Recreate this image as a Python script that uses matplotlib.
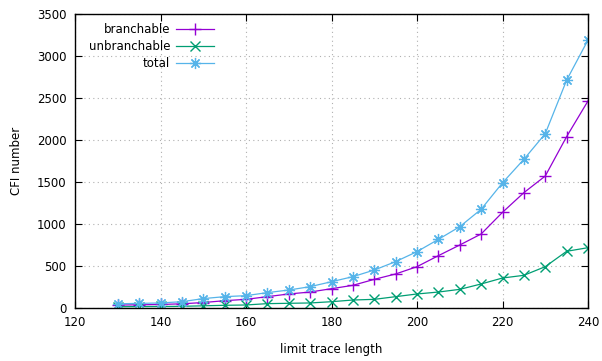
import matplotlib
matplotlib.use("Agg")
import matplotlib.pyplot as plt

x = [130, 135, 140, 145, 150, 155, 160, 165, 170, 175, 180, 185, 190, 195,
     200, 205, 210, 215, 220, 225, 230, 235, 240]
branchable = [35, 38, 42, 50, 65, 87, 103, 135, 167, 190, 230, 270, 341, 405,
              492, 623, 750, 881, 1139, 1373, 1571, 2040, 2465]
unbranchable = [15, 17, 18, 20, 26, 32, 36, 52, 56, 60, 75, 95, 103, 135,
                167, 190, 222, 286, 357, 389, 492, 675, 718]
total = [50, 55, 60, 75, 112, 135, 147, 183, 214, 254, 313, 373, 452, 552,
         671, 817, 968, 1175, 1490, 1770, 2075, 2712, 3190]

xticks = [120, 140, 160, 180, 200, 220, 240]
yticks = [0, 500, 1000, 1500, 2000, 2500, 3000, 3500]

plt.rcParams['font.family'] = ['DejaVu Sans']
plt.rcParams['font.size'] = 8.5

fig = plt.figure(figsize=(6.02, 3.61), dpi=100)
ax = fig.add_axes([75/602, 1-308/361, (588-75)/602, (308-14)/361])

ms = 8
ax.plot(x, branchable, color='#9400d3', lw=0.9, marker='+', ms=ms, mew=1.0, label='branchable')
ax.plot(x, unbranchable, color='#009e73', lw=0.9, marker='x', ms=ms*0.85, mew=1.0, label='unbranchable')
ax.plot(x, total, color='#56b4e9', lw=0.9, marker=(8, 2, 0), ms=ms, mew=0.9, label='total')

ax.set_xlim(120, 240)
ax.set_ylim(0, 3500)
ax.set_xticks(xticks)
ax.set_yticks(yticks)
ax.grid(True, color='#b0b0b0', linestyle=(0, (1, 3)), lw=0.8)
ax.tick_params(direction='in', top=True, right=True, length=5, width=0.8, pad=6)
for s in ax.spines.values():
    s.set_linewidth(1.0)
ax.set_xlabel('limit trace length', labelpad=10)
ax.set_ylabel('CFI number', labelpad=10)

leg = ax.legend(loc='upper left', frameon=False, markerfirst=False,
                handlelength=3.2, handletextpad=0.5, labelspacing=0.35,
                bbox_to_anchor=(0.006, 1.005))

fig.savefig('out.png', dpi=100)
